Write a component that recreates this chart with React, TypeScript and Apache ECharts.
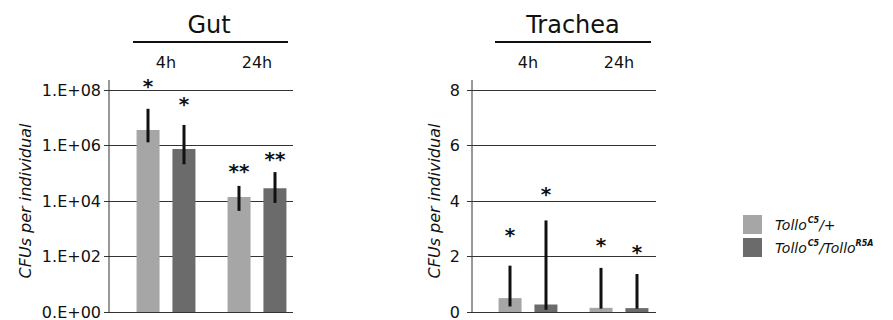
import React, { useEffect, useRef } from "react";
import * as echarts from "echarts";

const FONT = '"DejaVu Sans", sans-serif';
const INK = "#111111";
const LINE = "#333333";
const LIGHT = "#a6a6a6";
const DARK = "#6b6b6b";

const categories = ["4h", "24h"];
const seriesNames = ["TolloC5/+", "TolloC5/TolloR5A"];

// Gut (CFUs, log scale)
const gutWT = [3.6e6, 1.4e4];
const gutMut = [7.5e5, 2.9e4];
const gutWTErr = [[1.3e6, 2.1e7], [4.4e3, 3.5e4]];
const gutMutErr = [[2.1e5, 5.5e6], [8.5e3, 1.1e5]];
const gutWTStars = ["*", "**"];
const gutWTStarAt = [2.0e8, 1.7e5];
const gutMutStars = ["*", "**"];
const gutMutStarAt = [4.4e7, 4.6e5];
const gutTickLabels = ["0.E+00", "1.E+02", "1.E+04", "1.E+06", "1.E+08"];

// Trachea (CFUs, linear)
const trWT = [0.5, 0.15];
const trMut = [0.27, 0.14];
const trWTErr = [[0.2, 1.67], [0.12, 1.59]];
const trMutErr = [[0.08, 3.3], [0.12, 1.37]];
const trWTStars = ["*", "*"];
const trWTStarAt = [2.91, 2.57];
const trMutStars = ["*", "*"];
const trMutStarAt = [4.39, 2.31];

const BAR_W = 23;
const OFFSET = 18;

function errSeries(name: string, err: number[][], xi: number, dx: number) {
  return {
    type: "custom",
    name,
    xAxisIndex: xi,
    yAxisIndex: xi,
    clip: false,
    silent: true,
    z: 5,
    data: err.map((e, i) => [i, e[0], e[1]]),
    renderItem: (params: any, api: any) => {
      const lo = api.coord([api.value(0), api.value(1)]);
      const hi = api.coord([api.value(0), api.value(2)]);
      const x = lo[0] + dx;
      return {
        type: "line",
        shape: { x1: x, y1: lo[1], x2: x, y2: hi[1] },
        style: { stroke: INK, lineWidth: 3 },
      };
    },
  };
}

function starSeries(name: string, stars: string[], at: number[], xi: number, dx: number) {
  return {
    type: "custom",
    name,
    xAxisIndex: xi,
    yAxisIndex: xi,
    clip: false,
    silent: true,
    z: 6,
    data: at.map((v, i) => [i, v]),
    renderItem: (params: any, api: any) => {
      const p = api.coord([api.value(0), api.value(1)]);
      return {
        type: "text",
        x: p[0] + dx,
        y: p[1] + 4,
        style: {
          text: stars[params.dataIndex],
          fontSize: 20,
          fontWeight: "bold",
          fontFamily: FONT,
          fill: INK,
          align: "center",
          verticalAlign: "middle",
        },
      };
    },
  };
}

function barSeries(name: string, data: number[], xi: number, color: string) {
  return {
    type: "bar",
    name,
    xAxisIndex: xi,
    yAxisIndex: xi,
    data,
    barWidth: BAR_W,
    barGap: "56%",
    itemStyle: { color },
    silent: true,
  };
}

export default function App() {
  const ref = useRef<HTMLDivElement>(null);
  useEffect(() => {
    if (!ref.current) return;
    const chart = echarts.init(ref.current, null, { renderer: "svg" });

    const axisText = { fontFamily: FONT, fontSize: 16, color: INK };
    const nameStyle = { fontFamily: FONT, fontSize: 16, fontStyle: "italic", color: INK };

    const hiddenX = (gi: number) => ({
      type: "category",
      gridIndex: gi,
      data: categories,
      show: false,
    });
    const topX = (gi: number) => ({
      type: "category",
      gridIndex: gi,
      data: categories,
      position: "top",
      axisLine: { show: false },
      axisTick: { show: false },
      axisLabel: { ...axisText, margin: 20 },
    });

    const option: any = {
      animation: false,
      backgroundColor: "#ffffff",
      grid: [
        { left: 109, top: 90, width: 184, height: 222 },
        { left: 120.5, top: 90, width: 182, height: 222 },
        { left: 472, top: 90, width: 184, height: 222 },
        { left: 482.5, top: 90, width: 182, height: 222 },
      ],
      xAxis: [hiddenX(0), topX(1), hiddenX(2), topX(3)],
      yAxis: [
        {
          type: "log",
          logBase: 100,
          gridIndex: 0,
          min: 1,
          max: 1e8,
          axisLine: { show: false },
          axisTick: { show: true, length: 5, lineStyle: { color: LINE } },
          axisLabel: {
            ...axisText,
            margin: 8,
            formatter: (v: number) => gutTickLabels[Math.round(Math.log(v) / Math.log(100))],
          },
          splitLine: { show: true, lineStyle: { color: LINE, width: 1 } },
          name: "CFUs per individual",
          nameLocation: "middle",
          nameGap: 76,
          nameTextStyle: nameStyle,
        },
        { type: "log", logBase: 100, gridIndex: 1, min: 1, max: 1e8, show: false },
        {
          type: "value",
          gridIndex: 2,
          min: 0,
          max: 8,
          interval: 2,
          axisLine: { show: false },
          axisTick: { show: true, length: 5, lineStyle: { color: LINE } },
          axisLabel: { ...axisText, margin: 12 },
          splitLine: { show: true, lineStyle: { color: LINE, width: 1 } },
          name: "CFUs per individual",
          nameLocation: "middle",
          nameGap: 30,
          nameTextStyle: nameStyle,
        },
        { type: "value", gridIndex: 3, min: 0, max: 8, interval: 2, show: false },
      ],
      legend: {
        orient: "vertical",
        left: 743,
        top: 215,
        padding: 0,
        itemWidth: 19,
        itemHeight: 19,
        itemGap: 4,
        icon: "rect",
        data: seriesNames,
        selectedMode: false,
        formatter: (name: string) =>
          name === seriesNames[0]
            ? "{a|Tollo}{s|C5}{b|/+}"
            : "{a|Tollo}{s|C5}{b|/Tollo}{s|R5A}",
        textStyle: {
          fontFamily: FONT,
          fontSize: 14,
          fontStyle: "italic",
          color: INK,
          rich: {
            a: { fontFamily: FONT, fontSize: 14, fontStyle: "italic", color: INK, padding: [0, 1, 0, 8] },
            b: { fontFamily: FONT, fontSize: 14, fontStyle: "italic", color: INK },
            s: {
              fontFamily: FONT,
              fontSize: 8,
              fontStyle: "italic",
              fontWeight: "bold",
              color: INK,
              verticalAlign: "top",
              padding: [0, 0, 8, 0],
            },
          },
        },
      },
      graphic: [
        { type: "text", x: 209, y: 25, style: { text: "Gut", fontFamily: FONT, fontSize: 24, fill: INK, align: "center", verticalAlign: "middle" } },
        { type: "line", shape: { x1: 133, y1: 42, x2: 288, y2: 42 }, style: { stroke: INK, lineWidth: 2 } },
        { type: "line", shape: { x1: 109, y1: 80, x2: 109, y2: 312 }, style: { stroke: LINE, lineWidth: 1 } },
        { type: "text", x: 573, y: 25, style: { text: "Trachea", fontFamily: FONT, fontSize: 24, fill: INK, align: "center", verticalAlign: "middle" } },
        { type: "line", shape: { x1: 495, y1: 42, x2: 651, y2: 42 }, style: { stroke: INK, lineWidth: 2 } },
        { type: "line", shape: { x1: 472, y1: 80, x2: 472, y2: 312 }, style: { stroke: LINE, lineWidth: 1 } },
      ],
      series: [
        barSeries(seriesNames[0], gutWT, 1, LIGHT),
        barSeries(seriesNames[1], gutMut, 1, DARK),
        errSeries("e1", gutWTErr, 1, -OFFSET),
        errSeries("e2", gutMutErr, 1, OFFSET),
        starSeries("s1", gutWTStars, gutWTStarAt, 1, -OFFSET),
        starSeries("s2", gutMutStars, gutMutStarAt, 1, OFFSET),
        barSeries(seriesNames[0], trWT, 3, LIGHT),
        barSeries(seriesNames[1], trMut, 3, DARK),
        errSeries("e3", trWTErr, 3, -OFFSET),
        errSeries("e4", trMutErr, 3, OFFSET),
        starSeries("s3", trWTStars, trWTStarAt, 3, -OFFSET),
        starSeries("s4", trMutStars, trMutStarAt, 3, OFFSET),
      ],
    };
    chart.setOption(option);
    return () => chart.dispose();
  }, []);
  return (
    <div
      ref={ref}
      style={{ position: "fixed", left: 0, top: 0, width: 893, height: 320, background: "#fff" }}
    />
  );
}
